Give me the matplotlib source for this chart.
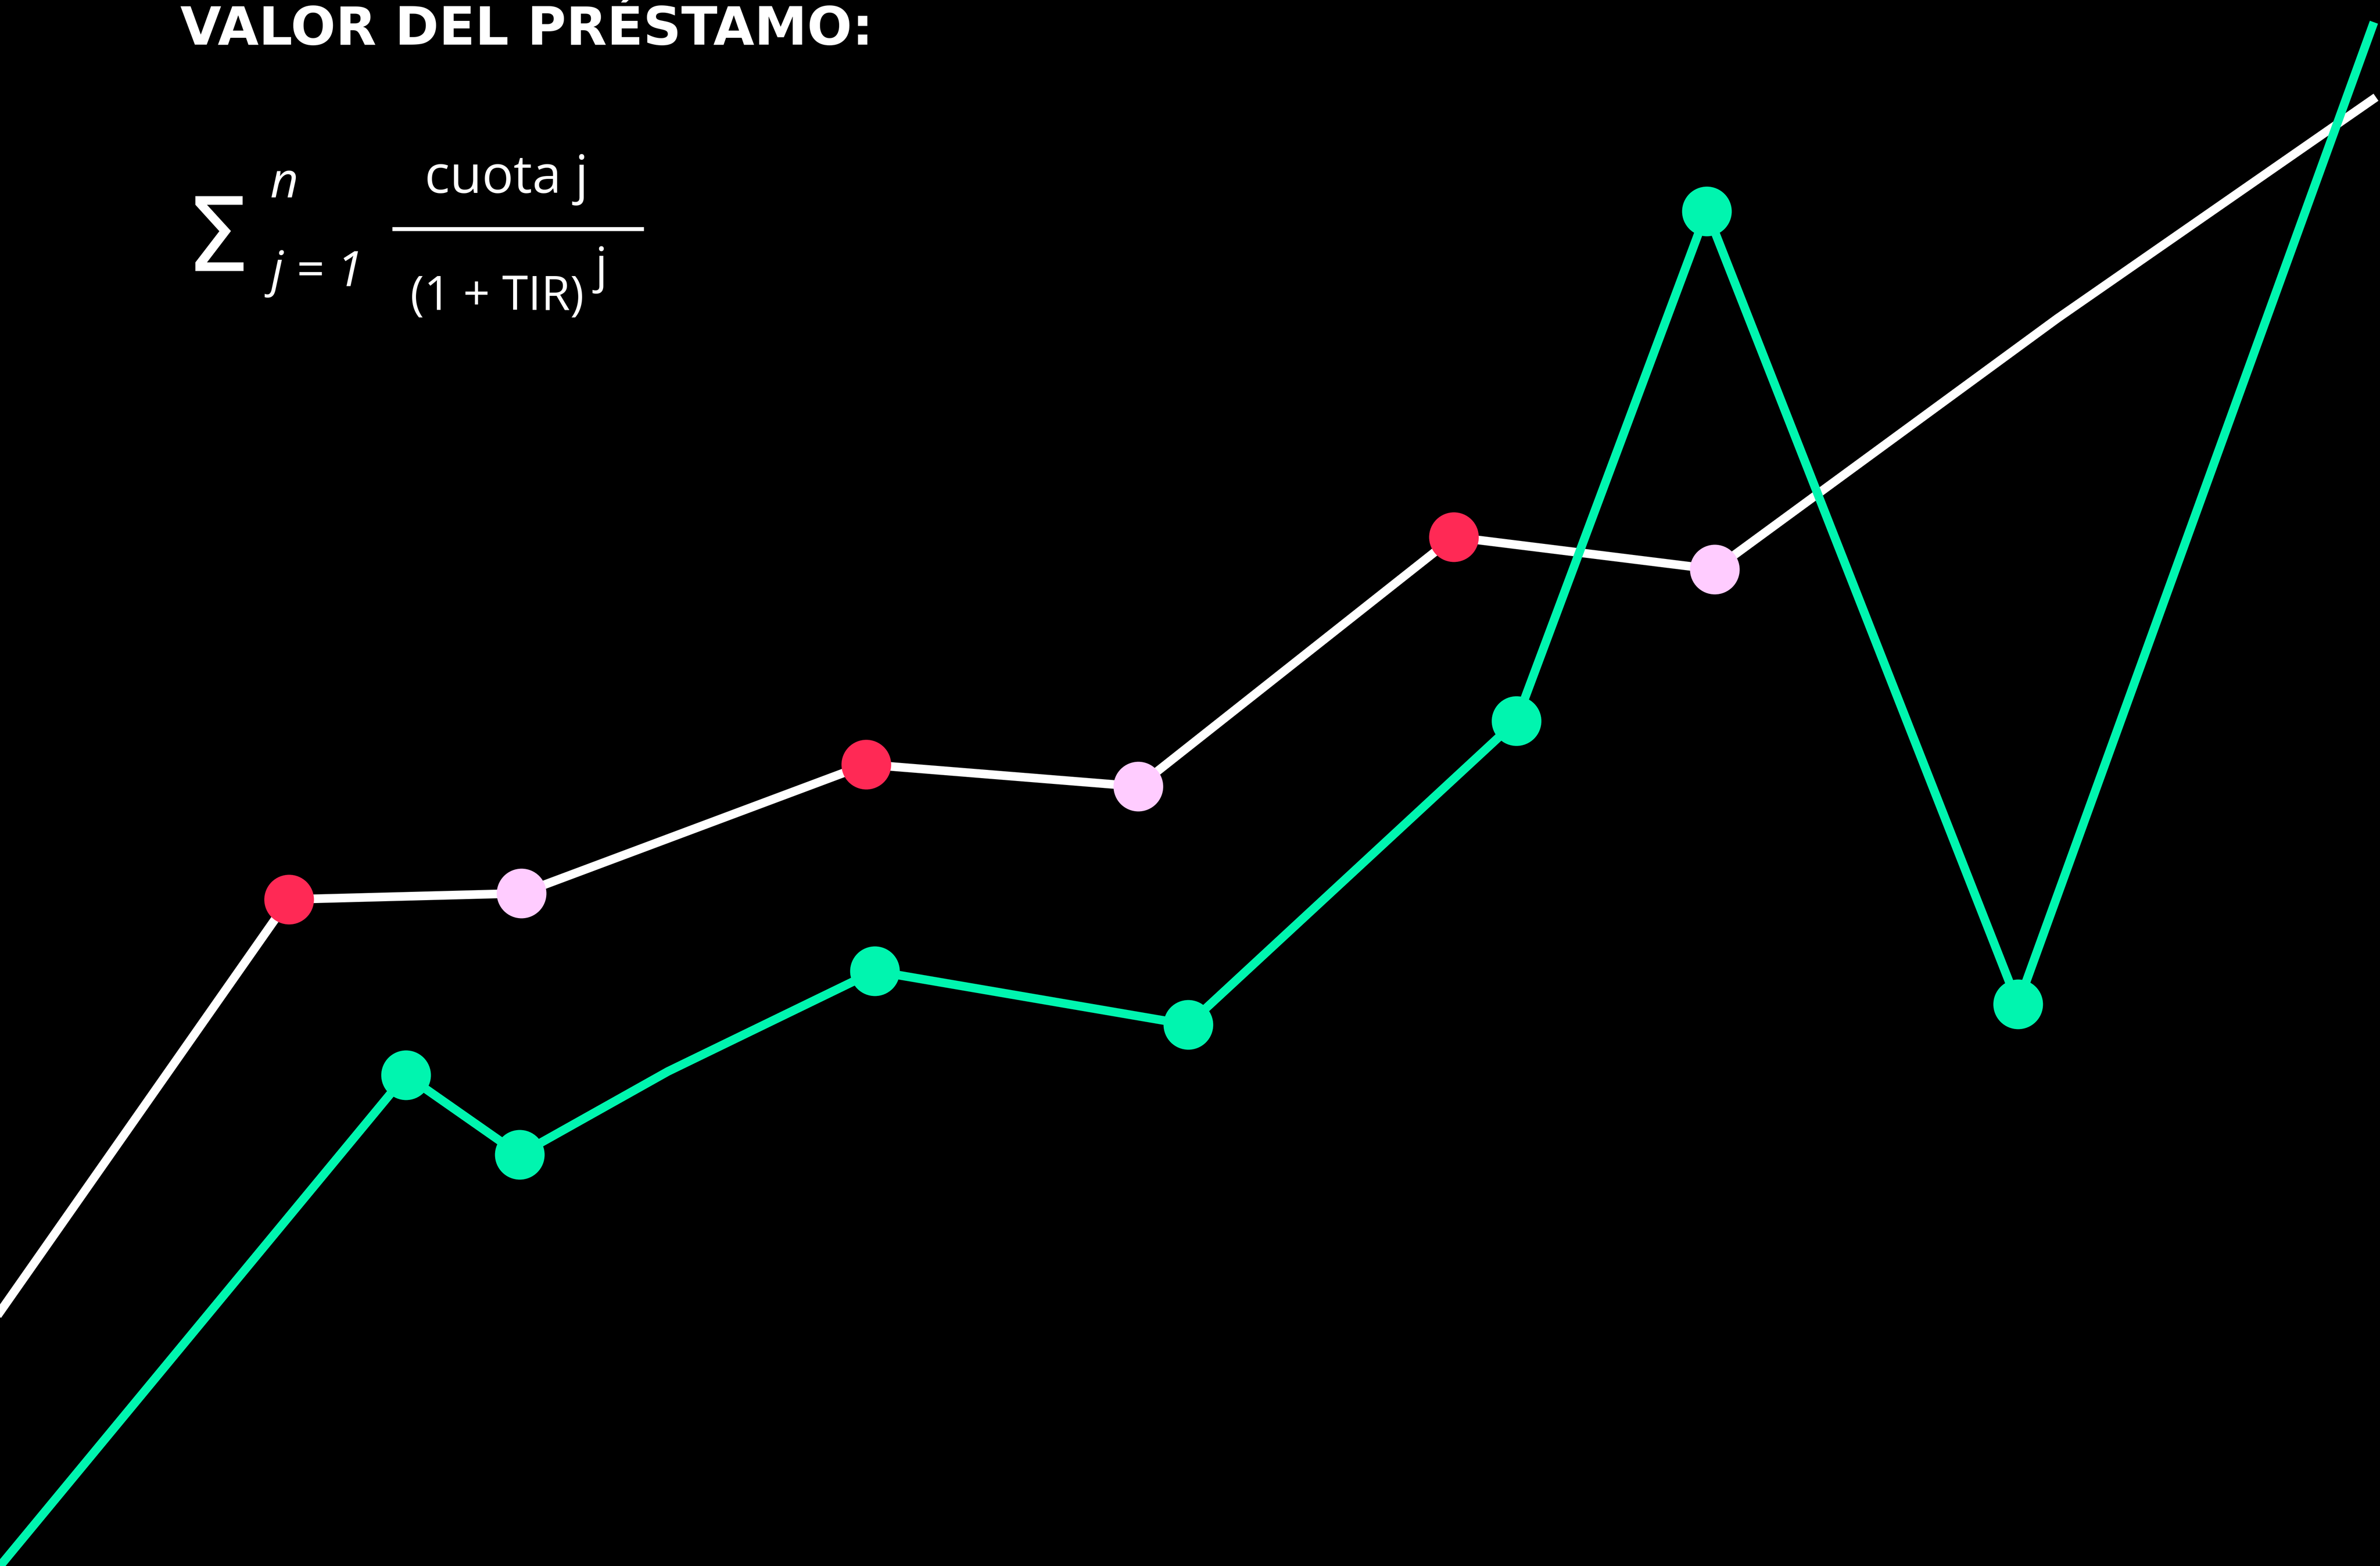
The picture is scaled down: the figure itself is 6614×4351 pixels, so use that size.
import matplotlib
matplotlib.use("Agg")
import matplotlib.pyplot as plt

# ---- data (in image-pixel units; y grows downward) ----
white_x = [0, 803, 1449, 2407, 3163, 4040, 4765, 5717, 6593]
white_y = [3645, 2499, 2482, 2124, 2185, 1492, 1582, 885, 277]
white_marker_colors = [None, "red", "pink", "red", "pink", "red", "pink", None, None]

green_x = [0, 1128, 1444, 1856, 2431, 3302, 4214, 4743, 5608, 6593]
green_y = [4351, 2987, 3208, 2977, 2698, 2847, 2003, 587, 2790, 73]
green_marker = [False, True, True, False, True, True, True, True, True, False]

title_text = "VALOR DEL PRÉSTAMO:"
numerator_text = "cuota j"
denominator_text = "(1 + TIR)"
exponent_text = "j"
upper_limit = "n"
lower_limit = "j = 1"

# ---- style ----
W, H = 6614, 4351
DPI = 100
PX = 72.0 / DPI  # points per pixel

BG = "#000000"
WHITE = "#FFFFFF"
GREEN = "#00F5AF"
RED = "#FF2955"
PINK = "#FFCCFF"
cmap = {"red": RED, "pink": PINK}

fig = plt.figure(figsize=(W / DPI, H / DPI), dpi=DPI, facecolor=BG)
ax = fig.add_axes([0, 0, 1, 1])
ax.set_facecolor(BG)
ax.set_xlim(0, W)
ax.set_ylim(H, 0)
ax.axis("off")

lw = 24 * PX
ms = 138 * PX

ax.plot(white_x, white_y, color=WHITE, lw=lw, solid_joinstyle="miter", zorder=2)
ax.plot(green_x, green_y, color=GREEN, lw=lw, solid_joinstyle="miter", zorder=3)

for x, y, c in zip(white_x, white_y, white_marker_colors):
    if c:
        ax.plot([x], [y], marker="o", ms=ms, color=cmap[c], mec="none", zorder=4)
for x, y, m in zip(green_x, green_y, green_marker):
    if m:
        ax.plot([x], [y], marker="o", ms=ms, color=GREEN, mec="none", zorder=4)

# ---- text ----
def fx(x):
    return x / W

def fy(y):
    return 1 - y / H

FONT = ["Open Sans", "DejaVu Sans"]
TFONT = ["DejaVu Sans"]

fig.text(fx(501), fy(124), title_text, color=WHITE, fontsize=106, fontweight="bold",
         family=TFONT, ha="left", va="baseline")

fig.text(fx(515), fy(753), "Σ", color=WHITE, fontsize=205,
         family=["DejaVu Sans"], ha="left", va="baseline")
fig.text(fx(751), fy(547), upper_limit, color=WHITE, fontsize=98, style="italic",
         family=FONT, ha="left", va="baseline")
fig.text(fx(752), fy(795), lower_limit, color=WHITE, fontsize=98, style="italic",
         family=FONT, ha="left", va="baseline")

fig.text(fx(1180), fy(536), numerator_text, color=WHITE, fontsize=105,
         family=FONT, ha="left", va="baseline")
ax.hlines(636, 1090, 1789, color=WHITE, lw=11 * PX, zorder=5)
fig.text(fx(1140), fy(861), denominator_text, color=WHITE, fontsize=94,
         family=FONT, ha="left", va="baseline")
fig.text(fx(1653), fy(784), exponent_text, color=WHITE, fontsize=98,
         family=FONT, ha="left", va="baseline")

fig.savefig("out.png", dpi=DPI, facecolor=BG)
